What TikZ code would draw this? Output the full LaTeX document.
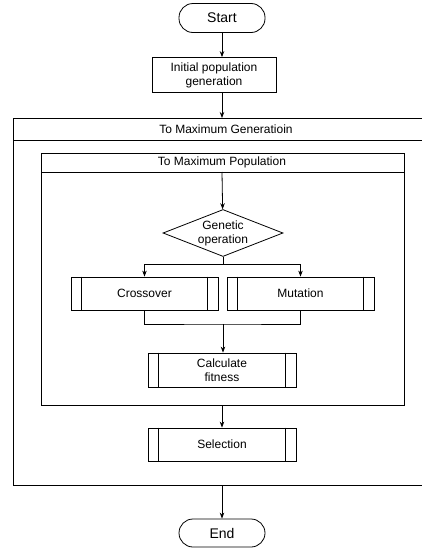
\documentclass[tikz,border=0pt]{standalone}
\usepackage{fontspec}
\setmainfont{Liberation Sans}
\usepackage{tikz}
\usetikzlibrary{arrows.meta,shapes.geometric}

\tikzset{
  terminal/.style={draw, rounded corners=14pt, minimum width=86pt, minimum height=29pt,
    font=\fontsize{14}{16}\selectfont},
  procbox/.style={draw, minimum width=124pt, minimum height=35pt, align=center},
  subproc/.style={draw, minimum width=148pt, minimum height=34pt, align=center},
  decision/.style={draw, diamond, aspect=2.55, minimum width=120pt, minimum height=47pt,
    inner sep=0pt, align=center},
  flow/.style={-{Stealth[length=6pt,width=4.5pt]}},
}

\begin{document}
\begin{tikzpicture}[x=1pt, y=-1pt, line width=0.8pt,
    font=\fontsize{12}{14}\selectfont]
    \useasboundingbox (0,0) rectangle (422,557);

    % Start and initial population
    \node[terminal] (start) at (222,18) {Start};
    \node[procbox] (init) at (214,75) {Initial population\\generation};

    % Outer loop frame (runs off the right edge)
    \draw (440,118) -- (13,118) -- (13,485) -- (440,485);
    \draw (13,140) -- (440,140);
    \node (genlabel) at (226,129) {To Maximum Generatioin};
    \coordinate (gentop) at (222,118);
    \coordinate (genbot) at (222,485);

    % Inner loop frame
    \draw (41,153) rectangle (404,405);
    \draw (41,172) -- (404,172);
    \node (poplabel) at (222,162) {To Maximum Population};
    \coordinate (popin) at (222,172);
    \coordinate (popbot) at (222,405);

    % Genetic operation and its two branches
    \node[decision] (genop) at (223,233) {Genetic\\operation};
    \node[subproc, minimum width=147pt, minimum height=33pt] (cross) at (144.5,293.5) {Crossover};
    \node[subproc, minimum width=147pt, minimum height=33pt] (mut) at (300.5,293.5) {Mutation};
    \node[subproc] (calc) at (222,370) {Calculate\\fitness};
    \node[subproc, minimum height=33pt] (sel) at (222,444.5) {Selection};

    % End
    \node[terminal, minimum height=28pt] (stop) at (222,533) {End};

    % double side lines of the sub-process boxes
    \foreach \n in {cross,mut,calc,sel}{
      \draw ([xshift=11pt]\n.north west) -- ([xshift=11pt]\n.south west);
      \draw ([xshift=-11pt]\n.north east) -- ([xshift=-11pt]\n.south east);
    }

    % Connectors
    \draw[flow] (start) -- (start.south |- init.north);
    \draw[flow] (gentop |- init.south) -- (gentop);
    \draw[flow] (popin) -- (genop);
    \coordinate (split) at (223,264);
    \draw (genop.south) -- (split);
    \draw[flow] (split) -| (cross.north);
    \draw[flow] (split) -| (mut.north);
    \coordinate (merge) at (223,324);
    \draw (cross.south) |- (merge) -| (mut.south);
    \draw[flow] (merge) -- (merge |- calc.north);
    \draw[flow] (popbot) -- (sel);
    \draw[flow] (genbot) -- (stop);
\end{tikzpicture}
\end{document}
